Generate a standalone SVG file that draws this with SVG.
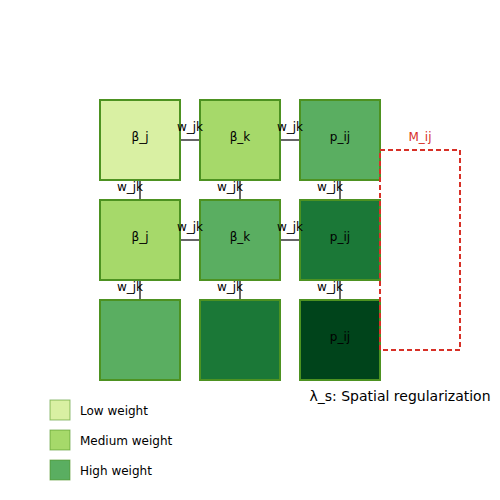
<svg xmlns="http://www.w3.org/2000/svg" width="500" height="500" viewBox="0 0 500 500">
<style>
.node rect{stroke:#4d9221;stroke-width:2}
.lbl{font-family:"DejaVu Sans",sans-serif;font-size:12px;text-anchor:middle;fill:#000}
.conn line{stroke:#666;stroke-width:2}
.wl{font-family:"DejaVu Sans",sans-serif;font-size:12px;text-anchor:middle;fill:#000}
.leg{font-family:"DejaVu Sans",sans-serif;font-size:12px;fill:#000}
.legbox{stroke:#4d9221;stroke-width:1;stroke-opacity:0.6}
</style>
<rect width="500" height="500" fill="#fff"/>
<g id="connectors" class="conn">
<line x1="180" y1="140" x2="200" y2="140"/>
<line x1="280" y1="140" x2="300" y2="140"/>
<line x1="180" y1="240" x2="200" y2="240"/>
<line x1="280" y1="240" x2="300" y2="240"/>
<line x1="140" y1="180" x2="140" y2="200"/>
<line x1="240" y1="180" x2="240" y2="200"/>
<line x1="340" y1="180" x2="340" y2="200"/>
<line x1="140" y1="280" x2="140" y2="300"/>
<line x1="240" y1="280" x2="240" y2="300"/>
<line x1="340" y1="280" x2="340" y2="300"/>
</g>
<g id="n00" class="node"><rect x="100" y="100" width="80" height="80" fill="#d9f0a3"/><text class="lbl" x="140" y="141">β_j</text></g>
<g id="n01" class="node"><rect x="200" y="100" width="80" height="80" fill="#a6d96a"/><text class="lbl" x="240" y="141">β_k</text></g>
<g id="n02" class="node"><rect x="300" y="100" width="80" height="80" fill="#5aae61"/><text class="lbl" x="340" y="141">p_ij</text></g>
<g id="n10" class="node"><rect x="100" y="200" width="80" height="80" fill="#a6d96a"/><text class="lbl" x="140" y="241">β_j</text></g>
<g id="n11" class="node"><rect x="200" y="200" width="80" height="80" fill="#5aae61"/><text class="lbl" x="240" y="241">β_k</text></g>
<g id="n12" class="node"><rect x="300" y="200" width="80" height="80" fill="#1b7837"/><text class="lbl" x="340" y="241">p_ij</text></g>
<g id="n20" class="node"><rect x="100" y="300" width="80" height="80" fill="#5aae61"/></g>
<g id="n21" class="node"><rect x="200" y="300" width="80" height="80" fill="#1b7837"/></g>
<g id="n22" class="node"><rect x="300" y="300" width="80" height="80" fill="#00441b"/><text class="lbl" x="340" y="341">p_ij</text></g>
<g id="connector-labels">
<text class="wl" x="190" y="131">w_jk</text>
<text class="wl" x="290" y="131">w_jk</text>
<text class="wl" x="190" y="231">w_jk</text>
<text class="wl" x="290" y="231">w_jk</text>
<text class="wl" x="130" y="191">w_jk</text>
<text class="wl" x="230" y="191">w_jk</text>
<text class="wl" x="330" y="191">w_jk</text>
<text class="wl" x="130" y="291">w_jk</text>
<text class="wl" x="230" y="291">w_jk</text>
<text class="wl" x="330" y="291">w_jk</text>
</g>
<g id="mask">
<rect x="380" y="150" width="80" height="200" fill="none" stroke="#d73027" stroke-width="2" stroke-dasharray="5,3"/>
<text x="420" y="141" font-family="DejaVu Sans,sans-serif" font-size="12" text-anchor="middle" fill="#d73027">M_ij</text>
</g>
<text x="400" y="401" font-family="DejaVu Sans,sans-serif" font-size="14" text-anchor="middle" fill="#000">λ_s: Spatial regularization</text>
<g id="legend">
<rect class="legbox" x="50" y="400" width="20" height="20" fill="#d9f0a3"/>
<text class="leg" x="80" y="415">Low weight</text>
<rect class="legbox" x="50" y="430" width="20" height="20" fill="#a6d96a"/>
<text class="leg" x="80" y="445">Medium weight</text>
<rect class="legbox" x="50" y="460" width="20" height="20" fill="#5aae61"/>
<text class="leg" x="80" y="475">High weight</text>
</g>
</svg>
